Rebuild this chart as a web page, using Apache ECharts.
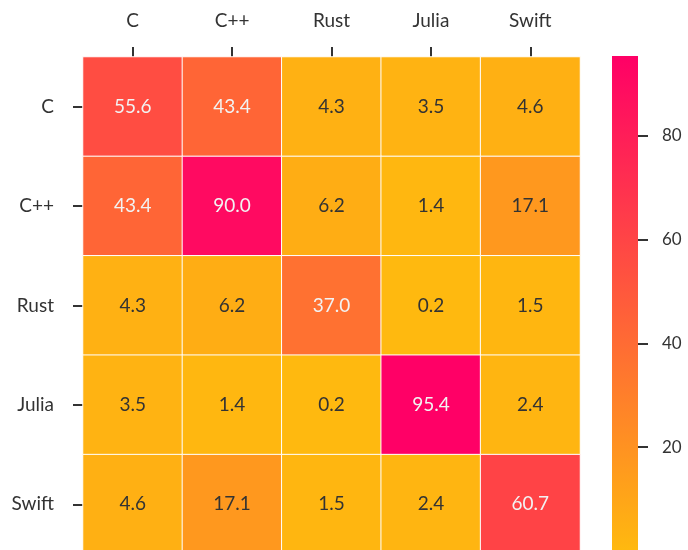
<!DOCTYPE html>
<html>
<head>
<meta charset="utf-8">
<script src="https://cdn.jsdelivr.net/npm/echarts@6/dist/echarts.min.js"></script>
<style>
html,body{margin:0;padding:0;background:#fff;}
#main{width:688px;height:550px;}
</style>
</head>
<body>
<div id="main"></div>
<script>
var langs = ['C', 'C++', 'Rust', 'Julia', 'Swift'];
// rows top to bottom, columns left to right
var row_C     = [55.6, 43.4, 4.3, 3.5, 4.6];
var row_Cpp   = [43.4, 90.0, 6.2, 1.4, 17.1];
var row_Rust  = [4.3, 6.2, 37.0, 0.2, 1.5];
var row_Julia = [3.5, 1.4, 0.2, 95.4, 2.4];
var row_Swift = [4.6, 17.1, 1.5, 2.4, 60.7];
var rows = [row_C, row_Cpp, row_Rust, row_Julia, row_Swift];
var vmin = 0.2, vmax = 95.4;
var lowColor = '#ffb90f', highColor = '#ff0066';

var cells = [];
for (var r = 0; r < rows.length; r++) {
	for (var c = 0; c < rows[r].length; c++) {
		var v = rows[r][c];
		cells.push({
			value: [c, r, v],
			label: { color: v > 30 ? '#f2f2f2' : '#333' }
		});
	}
}

var font = 'Lato, "Noto Sans", sans-serif';
var myChart = echarts.init(document.getElementById('main'));
var option = {
	animation: false,
	textStyle: { fontFamily: font },
	grid: [
		{ left: 83, top: 57, width: 497, height: 497, outerBoundsMode: 'none', containLabel: false },
		{ left: 612, top: 56, width: 26, height: 495, outerBoundsMode: 'none', containLabel: false }
	],
	xAxis: [
		{
			type: 'category', data: langs, position: 'top', gridIndex: 0,
			axisLine: { show: false },
			axisTick: { show: true, alignWithLabel: true, length: 10, lineStyle: { color: '#333', width: 2 } },
			axisLabel: { margin: 27, fontSize: 19, color: '#333', fontFamily: font },
			splitLine: { show: false }
		},
		{ type: 'category', data: ['bar'], gridIndex: 1, show: false }
	],
	yAxis: [
		{
			type: 'category', data: langs, inverse: true, gridIndex: 0,
			axisLine: { show: false },
			axisTick: { show: true, alignWithLabel: true, length: 10, lineStyle: { color: '#333', width: 2 } },
			axisLabel: { margin: 29, fontSize: 19, color: '#333', fontFamily: font },
			splitLine: { show: false }
		},
		{
			type: 'value', gridIndex: 1, position: 'right', min: 0, max: vmax, interval: 20,
			axisLine: { show: false },
			axisTick: { show: true, inside: false, length: 10, lineStyle: { color: '#333', width: 2 } },
			axisLabel: {
				margin: 24, fontSize: 17, color: '#333', fontFamily: font,
				showMinLabel: false, showMaxLabel: false
			},
			splitLine: { show: false }
		}
	],
	visualMap: {
		show: false, type: 'continuous', min: vmin, max: vmax, seriesIndex: 0,
		inRange: { color: [lowColor, highColor] }
	},
	series: [
		{
			type: 'heatmap', xAxisIndex: 0, yAxisIndex: 0,
			data: cells,
			label: { show: true, fontSize: 19, fontFamily: font, formatter: function (p) { return p.value[2].toFixed(1); } },
			itemStyle: { borderColor: '#fff', borderWidth: 1 },
			emphasis: { disabled: true }
		},
		{
			type: 'bar', xAxisIndex: 1, yAxisIndex: 1, barWidth: '100%',
			data: [vmax], silent: true, z: 1,
			itemStyle: {
				color: new echarts.graphic.LinearGradient(0, 0, 0, 1, [
					{ offset: 0, color: highColor },
					{ offset: 1, color: lowColor }
				])
			}
		}
	]
};
myChart.setOption(option);
</script>
</body>
</html>
